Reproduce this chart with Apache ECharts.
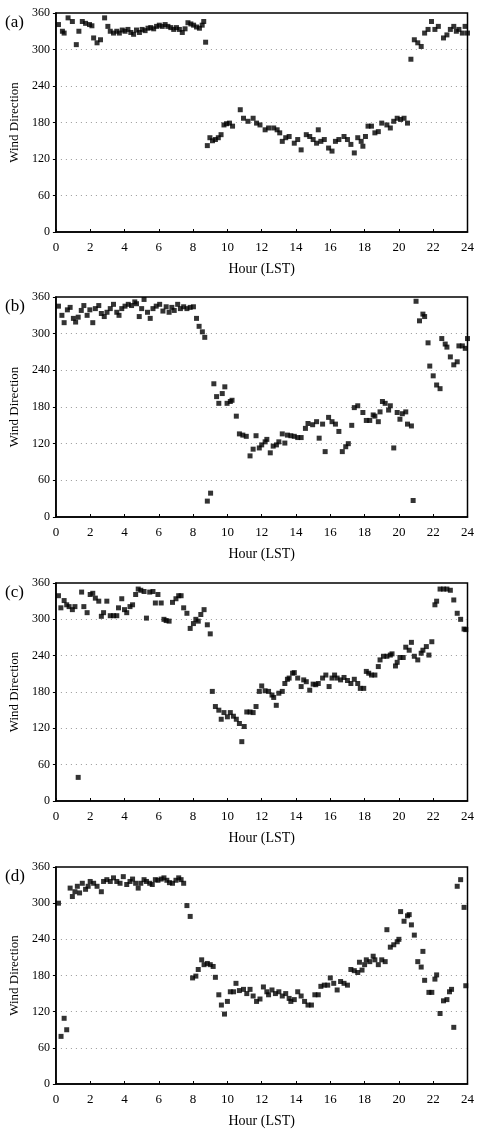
<!DOCTYPE html>
<html>
<head>
<meta charset="utf-8">
<script src="https://cdn.jsdelivr.net/npm/echarts@6/dist/echarts.min.js"></script>
<style>
  html, body { margin: 0; padding: 0; background: #fff; }
  #chart { width: 477px; height: 1132px; }
</style>
</head>
<body>
<div id="chart"></div>
<script>
// wind direction [hour LST, degrees]
const panelA = [
  [0.15,341],[0.38,330],[0.48,327],[0.71,352],[0.96,346],[1.19,308],[1.34,330],[1.54,346],[1.73,343],[1.96,341],
  [2.1,339],[2.2,319],[2.4,311],[2.6,316],[2.84,352],[3.03,338],[3.17,330],[3.36,327],[3.55,330],[3.7,327],
  [3.87,332],[4.03,330],[4.2,333],[4.37,328],[4.53,325],[4.7,332],[4.87,328],[5.03,333],[5.2,331],[5.37,335],
  [5.53,336],[5.7,334],[5.87,338],[6.03,340],[6.2,338],[6.37,341],[6.53,338],[6.7,336],[6.87,333],[7.03,336],
  [7.2,333],[7.37,328],[7.53,334],[7.7,344],[7.87,342],[8.03,340],[8.2,337],[8.37,335],[8.53,340],[8.62,346],
  [8.73,312],[8.83,142],[8.98,155],[9.13,150],[9.3,152],[9.47,155],[9.63,160],[9.8,176],[9.95,178],[10.12,179],
  [10.3,174],[10.75,201],[10.94,187],[11.2,182],[11.5,187],[11.7,179],[11.9,176],[12.2,168],[12.4,171],[12.7,171],
  [12.9,168],[13.05,163],[13.2,149],[13.4,155],[13.6,157],[13.9,146],[14.1,152],[14.3,135],[14.6,160],[14.8,157],
  [15.0,152],[15.2,146],[15.3,168],[15.45,149],[15.65,152],[15.9,138],[16.1,133],[16.3,149],[16.5,152],[16.8,157],
  [17.0,152],[17.2,144],[17.4,130],[17.6,155],[17.8,149],[17.9,141],[18.05,157],[18.2,174],[18.4,174],[18.6,163],
  [18.8,165],[19.0,179],[19.3,176],[19.5,171],[19.7,182],[19.9,187],[20.1,185],[20.3,187],[20.5,179],[20.7,284],
  [20.9,316],[21.1,311],[21.3,305],[21.5,327],[21.7,333],[21.9,346],[22.1,333],[22.3,338],[22.6,319],[22.8,324],
  [23.0,333],[23.2,338],[23.35,330],[23.5,333],[23.7,327],[23.86,338],[24.0,327]
];
const panelB = [
  [0.15,345],[0.35,330],[0.48,318],[0.67,339],[0.83,343],[1.02,325],[1.15,319],[1.3,327],[1.48,338],[1.63,346],
  [1.82,330],[1.98,339],[2.15,318],[2.3,341],[2.5,346],[2.65,333],[2.82,328],[2.98,335],[3.17,341],[3.36,348],
  [3.55,335],[3.68,330],[3.84,341],[4.03,345],[4.22,348],[4.41,346],[4.6,352],[4.7,349],[4.86,328],[5.0,341],
  [5.14,356],[5.34,335],[5.5,325],[5.66,341],[5.85,345],[6.05,348],[6.24,337],[6.43,344],[6.6,335],[6.76,343],
  [6.9,338],[7.1,348],[7.26,341],[7.45,344],[7.64,341],[7.83,343],[8.02,344],[8.2,325],[8.35,312],[8.54,303],
  [8.68,294],[8.83,26],[9.02,39],[9.21,218],[9.37,197],[9.5,186],[9.7,202],[9.85,213],[9.98,186],[10.17,189],
  [10.27,191],[10.52,165],[10.7,136],[10.9,134],[11.1,132],[11.32,100],[11.5,111],[11.67,133],[11.86,113],[12.0,118],
  [12.2,123],[12.3,127],[12.5,105],[12.67,116],[12.86,118],[13.0,123],[13.2,136],[13.35,121],[13.5,134],[13.7,133],
  [13.9,132],[14.1,130],[14.3,130],[14.55,145],[14.7,153],[14.97,151],[15.2,156],[15.35,129],[15.55,152],[15.7,107],
  [15.9,163],[16.1,156],[16.3,152],[16.5,140],[16.7,107],[16.9,115],[17.05,120],[17.25,150],[17.4,179],[17.6,182],
  [17.9,171],[18.1,158],[18.3,158],[18.5,167],[18.6,165],[18.8,156],[18.9,172],[19.04,189],[19.2,186],[19.4,175],
  [19.5,182],[19.7,113],[19.9,171],[20.06,160],[20.2,169],[20.4,172],[20.5,152],[20.73,149],[20.83,27],[21.0,353],
  [21.2,321],[21.4,332],[21.5,328],[21.7,285],[21.8,247],[22.0,231],[22.2,216],[22.4,210],[22.5,292],[22.7,283],
  [22.8,278],[23.0,262],[23.2,249],[23.4,254],[23.5,280],[23.7,280],[23.87,276],[24.0,292]
];
const panelC = [
  [0.15,339],[0.29,319],[0.48,331],[0.63,324],[0.77,321],[0.96,316],[1.11,321],[1.3,39],[1.5,345],[1.63,321],
  [1.82,311],[2.0,341],[2.15,343],[2.3,335],[2.5,330],[2.65,305],[2.78,311],[2.97,330],[3.17,306],[3.36,306],
  [3.55,306],[3.65,319],[3.84,334],[4.0,316],[4.13,311],[4.32,321],[4.47,324],[4.65,341],[4.8,350],[4.95,348],
  [5.14,346],[5.28,302],[5.47,345],[5.66,346],[5.8,327],[5.95,341],[6.14,327],[6.3,300],[6.43,298],[6.6,297],
  [6.8,328],[7.0,334],[7.16,339],[7.3,339],[7.45,319],[7.64,310],[7.83,285],[8.02,293],[8.16,300],[8.3,297],
  [8.45,308],[8.64,316],[8.83,291],[9.0,276],[9.12,181],[9.3,156],[9.5,150],[9.64,135],[9.8,146],[10.0,139],
  [10.17,146],[10.35,140],[10.52,135],[10.7,128],[10.84,98],[10.98,123],[11.13,147],[11.32,147],[11.5,146],[11.67,156],
  [11.86,181],[12.0,190],[12.2,182],[12.4,181],[12.6,175],[12.7,171],[12.85,158],[13.0,178],[13.2,181],[13.35,194],
  [13.5,201],[13.6,203],[13.8,211],[13.9,212],[14.1,203],[14.3,189],[14.45,200],[14.6,197],[14.8,183],[15.0,193],
  [15.15,192],[15.3,194],[15.55,203],[15.74,208],[15.93,189],[16.1,203],[16.25,208],[16.4,203],[16.6,200],[16.8,204],
  [17.0,199],[17.2,194],[17.4,201],[17.6,194],[17.75,186],[17.95,186],[18.1,214],[18.24,211],[18.4,208],[18.6,208],
  [18.8,222],[18.9,233],[19.1,239],[19.3,239],[19.5,241],[19.6,243],[19.8,223],[19.9,229],[20.06,237],[20.25,237],
  [20.4,254],[20.6,249],[20.73,262],[20.9,239],[21.1,233],[21.3,244],[21.4,249],[21.6,255],[21.75,241],[21.92,263],
  [22.1,324],[22.2,330],[22.4,350],[22.6,350],[22.8,350],[23.0,348],[23.2,332],[23.4,310],[23.6,300],[23.8,284],
  [23.9,283]
];
const panelD = [
  [0.15,300],[0.3,79],[0.48,109],[0.63,90],[0.83,325],[0.96,311],[1.11,319],[1.25,328],[1.38,317],[1.54,333],
  [1.73,323],[1.88,328],[2.0,336],[2.2,333],[2.4,328],[2.65,319],[2.78,336],[2.97,339],[3.17,336],[3.36,342],
  [3.55,336],[3.74,333],[3.93,344],[4.13,331],[4.32,336],[4.47,340],[4.65,333],[4.8,325],[4.95,333],[5.14,339],
  [5.28,336],[5.47,333],[5.62,331],[5.8,339],[5.95,338],[6.14,340],[6.3,342],[6.47,338],[6.62,334],[6.8,333],
  [7.0,338],[7.16,342],[7.3,339],[7.45,333],[7.64,296],[7.83,278],[7.97,176],[8.16,179],[8.3,190],[8.5,206],
  [8.64,198],[8.83,200],[9.0,198],[9.17,195],[9.3,177],[9.5,148],[9.65,131],[9.83,116],[10.0,137],[10.17,153],
  [10.36,153],[10.5,167],[10.7,155],[10.94,157],[11.13,150],[11.32,157],[11.5,146],[11.7,137],[11.9,141],[12.1,161],
  [12.3,153],[12.4,148],[12.6,156],[12.8,150],[13.0,153],[13.2,146],[13.4,150],[13.6,142],[13.7,137],[13.9,140],
  [14.1,153],[14.3,146],[14.5,137],[14.7,131],[14.9,131],[15.1,148],[15.3,148],[15.45,162],[15.65,164],[15.85,164],
  [16.0,176],[16.2,167],[16.4,156],[16.6,170],[16.8,167],[17.0,164],[17.2,190],[17.4,188],[17.6,185],[17.7,202],
  [17.85,189],[18.0,198],[18.1,206],[18.3,203],[18.5,212],[18.6,206],[18.8,198],[19.0,206],[19.2,203],[19.3,256],
  [19.5,227],[19.7,231],[19.9,236],[20.0,240],[20.1,286],[20.3,270],[20.5,279],[20.6,281],[20.73,264],[20.9,247],
  [21.1,203],[21.3,194],[21.4,220],[21.5,172],[21.75,152],[21.92,152],[22.1,174],[22.2,181],[22.4,117],[22.6,138],
  [22.8,140],[22.95,153],[23.07,157],[23.2,94],[23.4,328],[23.6,339],[23.8,293],[23.9,163]
];
const panels = [panelA, panelB, panelC, panelD];
const panelLabels = ['(a)', '(b)', '(c)', '(d)'];
// grid boxes in pixels [left, top, width, height]
const boxes = [[53, 13, 417, 219], [53, 297, 418, 220], [53, 583, 416, 218], [53, 867, 415, 217]];

const font = 'Liberation Serif';
const ink = '#000';

const chart = echarts.init(document.getElementById('chart'));
const option = {
  backgroundColor: '#fff',
  animation: false,
  grid: boxes.map(b => ({
    left: b[0], top: b[1], width: b[2], height: b[3],
    show: true, borderColor: ink, borderWidth: 1.5, backgroundColor: 'transparent'
  })),
  xAxis: boxes.map((b, i) => ({
    type: 'value', gridIndex: i, min: 0, max: 24, interval: 2,
    name: 'Hour (LST)', nameLocation: 'middle', nameGap: 30,
    nameTextStyle: { fontFamily: font, fontSize: 14, color: ink },
    axisLine: { lineStyle: { color: ink, width: 1.5 } },
    axisTick: { show: true, inside: true, length: 3, lineStyle: { color: ink } },
    axisLabel: { fontFamily: font, fontSize: 13, color: ink, margin: 9 },
    splitLine: { show: false }
  })),
  yAxis: boxes.map((b, i) => ({
    type: 'value', gridIndex: i, min: 0, max: 360, interval: 60,
    name: 'Wind Direction', nameLocation: 'middle', nameGap: 34,
    nameTextStyle: { fontFamily: font, fontSize: 13, color: ink },
    axisLine: { lineStyle: { color: ink, width: 1.5 } },
    axisTick: { show: true, length: 3, lineStyle: { color: ink } },
    axisLabel: { fontFamily: font, fontSize: 12, color: ink, margin: 6 },
    splitLine: {
      show: true, showMinLine: false, showMaxLine: false,
      lineStyle: { color: '#999', type: [1, 4], width: 1 }
    }
  })),
  graphic: boxes.map((b, i) => ({
    type: 'text', left: 5, top: b[1] + 1,
    style: { text: panelLabels[i], fontFamily: font, fontSize: 17, fill: ink }
  })),
  series: panels.map((d, i) => ({
    type: 'scatter', xAxisIndex: i, yAxisIndex: i,
    symbol: 'rect', symbolSize: 5,
    itemStyle: { color: ink },
    data: d
  }))
};
chart.setOption(option);
</script>
</body>
</html>
